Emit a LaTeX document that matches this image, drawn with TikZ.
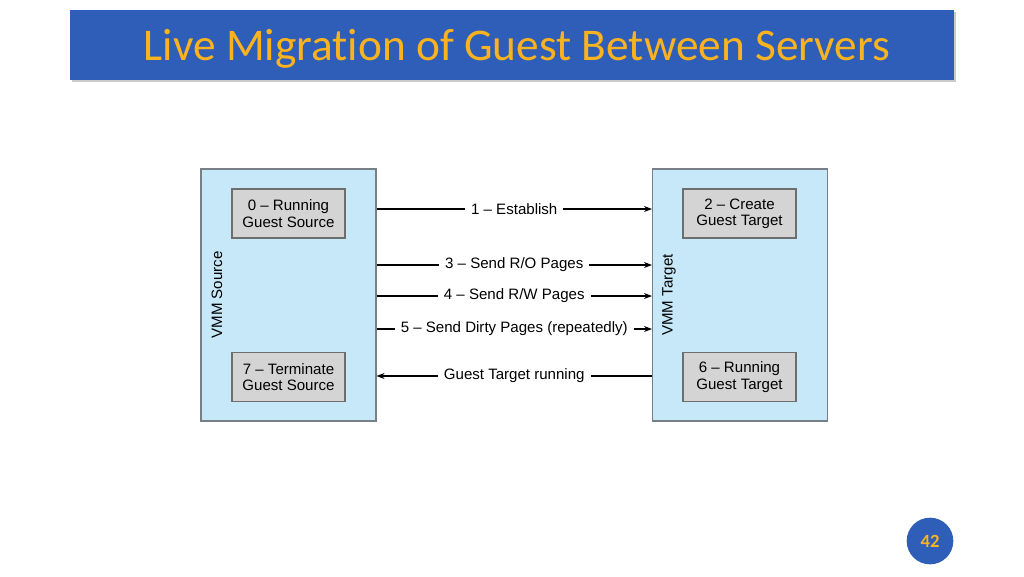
\documentclass[tikz,border=0pt]{standalone}
\usepackage{fontspec}
\setmainfont{Liberation Sans}
\newfontfamily\titlefont[Ligatures={NoCommon}]{Carlito}
\usetikzlibrary{arrows.meta,shadows}
\definecolor{barblue}{RGB}{46,94,184}
\definecolor{titleorange}{RGB}{250,178,30}
\definecolor{vmmfill}{RGB}{199,232,248}
\definecolor{vmmdraw}{RGB}{120,128,135}
\definecolor{guestfill}{RGB}{212,212,212}
\definecolor{guestdraw}{RGB}{110,110,110}
\tikzset{
  vmm/.style={draw=vmmdraw, line width=0.8pt, fill=vmmfill, minimum width=131.25pt, minimum height=189pt, inner sep=0pt},
  guest/.style={draw=guestdraw, line width=0.8pt, fill=guestfill, minimum width=84.75pt, minimum height=36.75pt, inner sep=0pt, align=center, font=\fontsize{11.3}{12.3}\selectfont},
  vmmlabel/.style={rotate=90, font=\fontsize{11.3}{13}\selectfont},
  msg/.style={line width=0.9pt, -{Stealth[length=6pt,width=4.5pt]}},
  msglabel/.style={fill=white, inner xsep=4.5pt, inner ysep=1pt, font=\fontsize{11.3}{13}\selectfont},
}
\begin{document}
\begin{tikzpicture}[x=0.75pt,y=-0.75pt]
\useasboundingbox (0,0) rectangle (1024,576);
% title bar
\node[fill=barblue, minimum width=663pt, minimum height=52.5pt, inner sep=0pt,
      drop shadow={shadow xshift=1.5pt, shadow yshift=-1.5pt, opacity=0.35, fill=black!60}] (bar) at (512,45) {};
\node[text=titleorange, font=\titlefont\fontsize{34}{40}\selectfont] (title) at (517,49) {Live Migration of Guest Between Servers};
% VMM boxes
\node[vmm] (src) at (288.5,295) {};
\node[vmm] (tgt) at (740,295) {};
\node[vmmlabel] (srclab) at (217,295) {VMM Source};
\node[vmmlabel] (tgtlab) at (669,295) {VMM Target};
% guest boxes
\node[guest] (g0) at (288.5,213.5) {0 -- Running\\Guest Source};
\node[guest] (g7) at (288.5,377) {7 -- Terminate\\Guest Source};
\node[guest] (g2) at (739.5,213.5) {2 -- Create\\Guest Target};
\node[guest] (g6) at (739.5,377) {6 -- Running\\Guest Target};
% arrow levels
\coordinate (y1) at (0,209);
\coordinate (y3) at (0,265);
\coordinate (y4) at (0,296);
\coordinate (y5) at (0,329);
\coordinate (y6) at (0,376);
\draw[msg] (src.east |- y1) -- node[msglabel]{1 -- Establish} (tgt.west |- y1);
\draw[msg] (src.east |- y3) -- node[msglabel]{3 -- Send R/O Pages} (tgt.west |- y3);
\draw[msg] (src.east |- y4) -- node[msglabel]{4 -- Send R/W Pages} (tgt.west |- y4);
\draw[msg] (src.east |- y5) -- node[msglabel]{5 -- Send Dirty Pages (repeatedly)} (tgt.west |- y5);
\draw[msg] (tgt.west |- y6) -- node[msglabel]{Guest Target running} (src.east |- y6);
% page number
\node[circle, fill=barblue, minimum size=35pt, inner sep=0pt, text=titleorange, font=\titlefont\bfseries\fontsize{14}{16}\selectfont] (page) at (930,541) {42};
\end{tikzpicture}
\end{document}
